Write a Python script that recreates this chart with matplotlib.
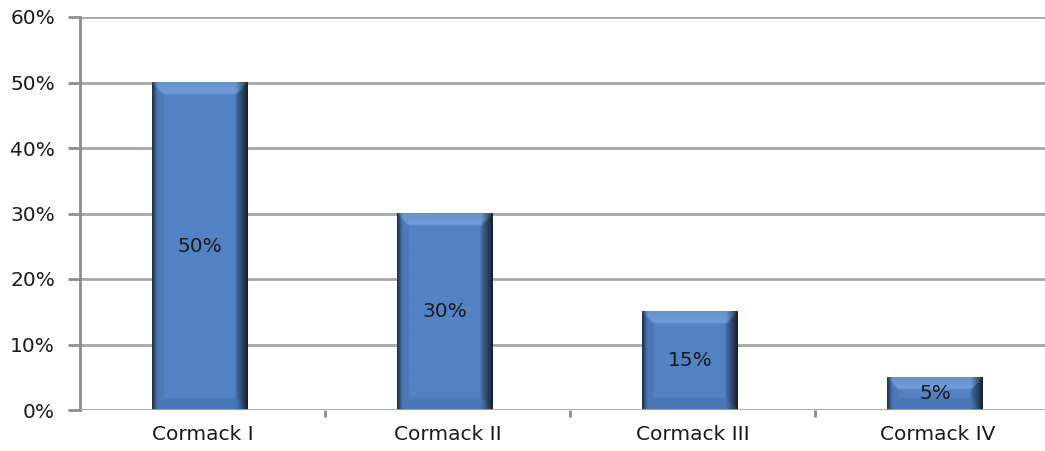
import numpy as np
import matplotlib
matplotlib.use('Agg')
import matplotlib.pyplot as plt
from matplotlib.ticker import PercentFormatter, FixedLocator

categories = ['Cormack I', 'Cormack II', 'Cormack III', 'Cormack IV']
shares = [50, 30, 15, 5]
labels = ['50%', '30%', '15%', '5%']

plt.rcParams['font.family'] = ['DejaVu Sans']

fig = plt.figure(figsize=(10.45, 4.51), dpi=100)
ax = fig.add_axes([80 / 1045, 41 / 451, 980 / 1045, 393 / 451])
ax.set_xlim(-0.5, len(categories) - 0.5)
ax.set_ylim(0, 60)

grid_col = '#a6a6a6'
for y in range(10, 61, 10):
    ax.axhline(y, color=grid_col, lw=2, zorder=0)
ax.axhline(0, color=grid_col, lw=2, zorder=3)

for s in ['top', 'right', 'bottom']:
    ax.spines[s].set_visible(False)
ax.spines['left'].set_color('#8c8c8c')
ax.spines['left'].set_linewidth(2)

ax.yaxis.set_major_formatter(PercentFormatter(decimals=0))
ax.set_yticks(range(0, 61, 10))
ax.tick_params(axis='y', length=9, width=2, color='#8c8c8c', labelsize=14.5,
               labelcolor='#1a1a1a', pad=9)
ax.set_xticks(range(len(categories)))
ax.set_xticklabels(categories)
ax.tick_params(axis='x', length=0, labelsize=14.5, labelcolor='#1a1a1a', pad=11)
ax.xaxis.set_minor_locator(FixedLocator(np.arange(0.5, len(categories) - 1, 1)))
ax.tick_params(axis='x', which='minor', length=5, width=2, color='#8c8c8c')

bars = ax.bar(np.arange(len(categories)) - 0.01, shares, width=0.39,
              color='#5283c4', zorder=2)


def smooth(a, k=3):
    # small box blur so the facet borders are soft
    pad = k // 2
    p = np.pad(a, ((pad, pad), (pad, pad), (0, 0)), mode='edge')
    out = np.zeros_like(a)
    for dy in range(k):
        for dx in range(k):
            out += p[dy:dy + a.shape[0], dx:dx + a.shape[1]]
    return out / (k * k)


def bevel_image(w, h, b=12):
    # flat face, light top facet, shaded sides fading to a dark rim
    yy, xx = np.mgrid[0:h, 0:w].astype(float)
    dt, db, dl, dr = yy, h - 1 - yy, xx, w - 1 - xx
    img = np.zeros((h, w, 3))
    img[:] = np.array([82, 131, 196]) / 255
    top = np.array([112, 158, 220]) / 255
    bottom = np.array([74, 120, 182]) / 255
    d = np.stack([dt, db, dl, dr])
    which = np.argmin(d, axis=0)
    inb = d.min(axis=0) < b
    tm = inb & (which == 0)
    img[tm] = top * (0.93 + 0.07 * (dt[tm] / b))[:, None]
    bm = inb & (which == 1)
    img[bm] = bottom
    rm = inb & (which == 3)
    img[rm] = img[rm] * 0.82
    lm = inb & (which == 2)
    img[lm] = img[lm] * 0.93
    # right side: gradient into a near-black rim
    fr = np.clip(1 - dr / b, 0, 1)[..., None]
    img = img * (1 - 0.7 * fr ** 1.2)
    # left side: thin dark rim
    fl = np.clip(1 - dl / 5, 0, 1)[..., None]
    img = img * (1 - 0.6 * fl)
    return np.clip(smooth(img), 0, 1)


fig.canvas.draw()
for bar in bars:
    x0, y0 = bar.get_x(), bar.get_y()
    x1, y1 = x0 + bar.get_width(), y0 + bar.get_height()
    p0 = ax.transData.transform((x0, y0))
    p1 = ax.transData.transform((x1, y1))
    w = max(int(round(p1[0] - p0[0])), 2)
    h = max(int(round(p1[1] - p0[1])), 2)
    ax.imshow(bevel_image(w, h), extent=(x0, x1, y0, y1), aspect='auto',
              interpolation='bilinear', zorder=2.5)

for bar, v, lab in zip(bars, shares, labels):
    ax.text(bar.get_x() + bar.get_width() / 2, v / 2, lab, ha='center',
            va='center', fontsize=14.5, color='#1a1a1a', zorder=4)

ax.set_xlim(-0.5, len(categories) - 0.5)
ax.set_ylim(0, 60)

fig.savefig('out.png', dpi=100)
